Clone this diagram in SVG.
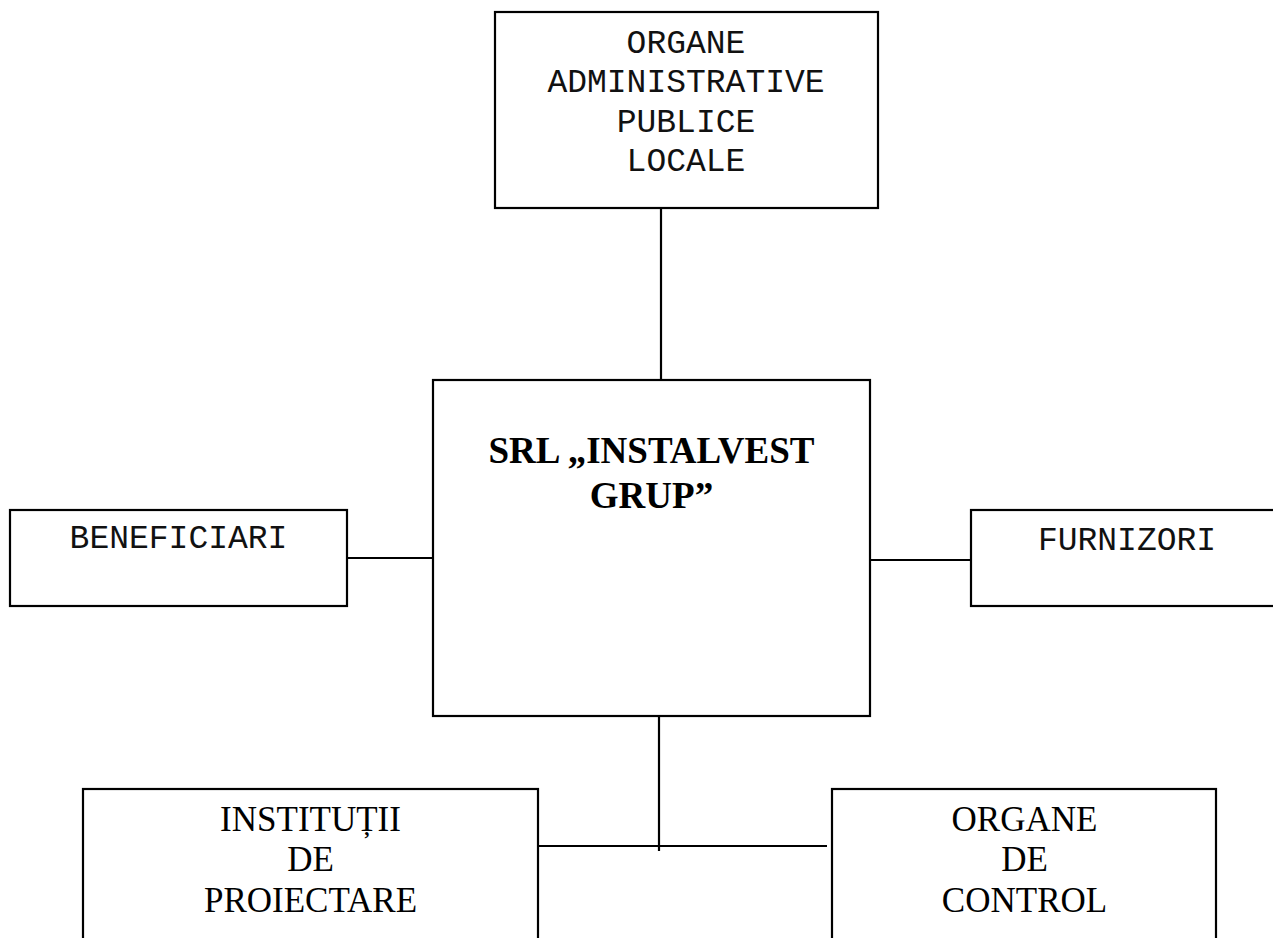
<svg xmlns="http://www.w3.org/2000/svg" width="1273" height="938" viewBox="0 0 1273 938">
<style>
.box{fill:#fff;stroke:#000;stroke-width:2.2}
.ln{stroke:#000;stroke-width:2.2;fill:none}
.mono{font-family:"Liberation Mono","Courier New",monospace;font-size:33px;fill:#111;text-anchor:middle}
.ser{font-family:"Liberation Serif","Times New Roman",serif;font-size:35px;fill:#000;text-anchor:middle}
.bold{font-family:"Liberation Serif","Times New Roman",serif;font-size:37px;font-weight:bold;fill:#000;text-anchor:middle}
</style>
<rect width="1273" height="938" fill="#fff"/>
<g id="connectors">
<line class="ln" x1="661" y1="208" x2="661" y2="380"/>
<line class="ln" x1="347" y1="558" x2="433" y2="558"/>
<line class="ln" x1="870" y1="560" x2="971" y2="560"/>
<line class="ln" x1="659" y1="716" x2="659" y2="851"/>
<line class="ln" x1="538" y1="846" x2="827" y2="846"/>
</g>
<g id="n-top">
<rect class="box" x="495" y="12" width="383" height="196"/>
<text class="mono" x="686" y="53">ORGANE</text>
<text class="mono" x="686" y="92">ADMINISTRATIVE</text>
<text class="mono" x="686" y="132">PUBLICE</text>
<text class="mono" x="686" y="171">LOCALE</text>
</g>
<g id="n-center">
<rect class="box" x="433" y="380" width="437" height="336"/>
<text class="bold" x="651.5" y="463">SRL „INSTALVEST</text>
<text class="bold" x="651.5" y="508">GRUP”</text>
</g>
<g id="n-benef">
<rect class="box" x="10" y="510" width="337" height="96"/>
<text class="mono" x="178.5" y="548">BENEFICIARI</text>
</g>
<g id="n-furn">
<rect class="box" x="971" y="510" width="320" height="96"/>
<text class="mono" x="1127" y="550">FURNIZORI</text>
</g>
<g id="n-inst">
<rect class="box" x="83" y="789" width="455" height="170"/>
<text class="ser" x="310.5" y="831">INSTITUȚII</text>
<text class="ser" x="310.5" y="871">DE</text>
<text class="ser" x="310.5" y="912">PROIECTARE</text>
</g>
<g id="n-control">
<rect class="box" x="832" y="789" width="384" height="170"/>
<text class="ser" x="1024.5" y="831">ORGANE</text>
<text class="ser" x="1024.5" y="871">DE</text>
<text class="ser" x="1024.5" y="912">CONTROL</text>
</g>
</svg>
